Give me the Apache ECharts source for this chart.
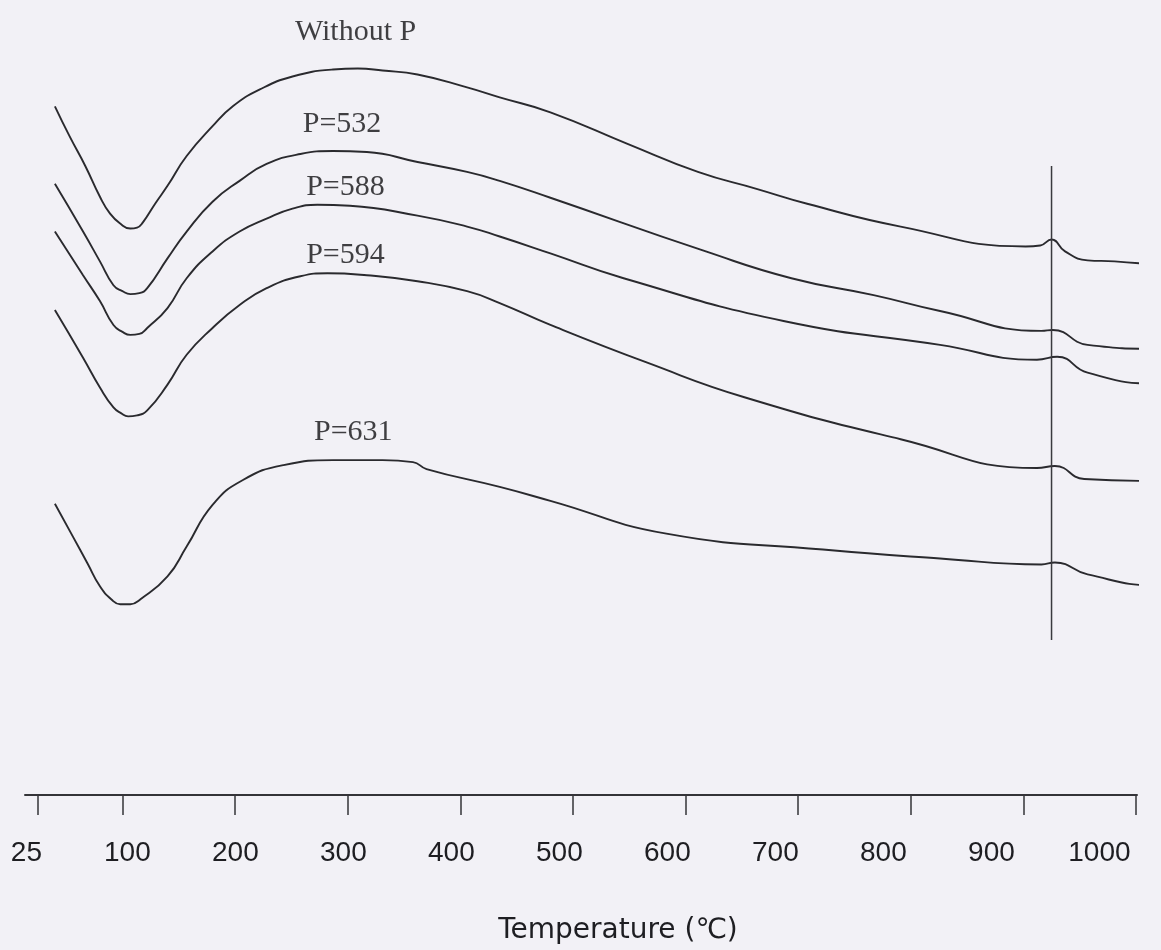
<!DOCTYPE html>
<html>
<head>
<meta charset="utf-8">
<title>DTA curves</title>
<script src="https://cdn.jsdelivr.net/npm/echarts@6/dist/echarts.min.js"></script>
<style>
  html, body { margin: 0; padding: 0; background: #f2f1f6; }
  #chart { width: 1161px; height: 950px; }
</style>
</head>
<body>
<div id="chart"></div>
<script>
// DTA traces: [temperature °C, ΔT in arbitrary units]
const withoutP = [[40,69.3],[53,66.3],[67,63.3],[80,60.2],[89,58.5],[98,57.5],[107,57.0],[113,57.1],[118,57.6],[129,59.5],[140,61.3],[157,64.3],[180,67.3],[198,69.3],[222,71.0],[251,72.3],[287,73.0],[309,73.1],[331,72.9],[362,72.5],[406,71.2],[435,70.2],[480,68.7],[549,65.5],[611,62.7],[663,61.0],[708,59.5],[791,57.2],[902,55.2],[915,55.3],[925,55.9],[937,54.7],[957,53.8],[981,53.7],[1022,53.3]];
const p532 = [[40,61.5],[65,56.7],[80,53.7],[92,51.3],[100,50.7],[107,50.4],[115,50.5],[122,51.0],[140,54.0],[157,56.7],[180,59.7],[204,61.8],[228,63.5],[258,64.5],[287,64.8],[317,64.7],[362,63.7],[406,62.7],[435,61.8],[480,60.1],[618,54.7],[694,52.0],[767,50.3],[826,48.7],[916,46.7],[926,46.8],[957,45.3],[1019,44.9],[1022,44.9]];
const p588 = [[40,56.7],[65,52.3],[80,49.7],[92,47.3],[100,46.6],[107,46.3],[115,46.4],[122,47.0],[140,49.0],[157,52.0],[180,54.7],[204,56.7],[228,58.0],[251,59.0],[273,59.4],[302,59.3],[362,58.3],[406,57.2],[435,56.2],[480,54.5],[545,52.0],[687,47.7],[826,45.3],[912,43.8],[930,44.1],[957,42.5],[1019,41.4],[1022,41.4]];
const p594 = [[40,48.8],[65,44.0],[80,41.0],[92,39.0],[99,38.4],[105,38.1],[113,38.2],[122,38.7],[140,41.3],[157,44.3],[180,47.0],[204,49.3],[228,51.0],[258,52.2],[282,52.5],[317,52.3],[362,51.7],[406,50.7],[435,49.5],[480,47.3],[566,43.5],[653,40.0],[791,35.8],[912,32.9],[928,33.1],[954,31.8],[1019,31.6],[1022,31.6]];
const p631 = [[40,29.3],[56,26.0],[69,23.3],[80,21.0],[90,19.7],[98,19.2],[107,19.2],[116,19.7],[140,22.0],[157,25.0],[180,29.2],[207,31.7],[243,33.2],[287,33.7],[331,33.7],[358,33.5],[370,32.8],[435,31.0],[480,29.6],[583,26.3],[722,24.7],[826,23.8],[916,23.2],[928,23.4],[957,22.2],[1019,21.1],[1022,21.1]];

const curveNames = ['Without P', 'P=532', 'P=588', 'P=594', 'P=631'];
const curves = [withoutP, p532, p588, p594, p631];
// where each curve's name is written: [temperature, ΔT]
const nameAnchors = [[307,76.8],[295,67.5],[298,61.2],[298,54.3],[305,36.5]];

// marker line at the exothermic peak
const peakTemp = 925;
const peakSpan = [15.6, 63.3];

// temperature scale
const tickTemps = [25, 100, 200, 300, 400, 500, 600, 700, 800, 900, 1000];
const printedLabels = [25, 100, 200, 300, 400, 500, 600, 700, 800, 900, 1000];

const chart = echarts.init(document.getElementById('chart'), null, { renderer: 'canvas' });

const ink = '#2a2a2e';
const labelFont = { fontFamily: 'Liberation Sans', fontSize: 28, color: '#1e1e22' };

const series = curves.map((d, i) => ({
  type: 'line',
  name: curveNames[i],
  data: d,
  showSymbol: false,
  smooth: 0.5,
  clip: false,
  lineStyle: { color: ink, width: 1.9 },
  xAxisIndex: 0,
  yAxisIndex: 0
}));

series.push({
  type: 'line',
  name: 'peak',
  data: [[peakTemp, peakSpan[0]], [peakTemp, peakSpan[1]]],
  showSymbol: false,
  lineStyle: { color: '#3a3a3e', width: 1.5 },
  xAxisIndex: 0,
  yAxisIndex: 0
});

series.push({
  type: 'scatter',
  name: 'names',
  data: curveNames.map((n, i) => ({ name: n, value: nameAnchors[i] })),
  symbolSize: 2,
  itemStyle: { color: 'rgba(0,0,0,0)' },
  silent: true,
  z: 5,
  label: {
    show: true,
    position: 'inside',
    formatter: p => p.name,
    fontFamily: 'Liberation Serif',
    fontSize: 30,
    color: '#111114',
    textBorderWidth: 0
  },
  xAxisIndex: 0,
  yAxisIndex: 0
});

chart.setOption({
  animation: false,
  backgroundColor: '#f2f1f6',
  grid: { left: 25, right: 24, top: 0, bottom: 150 },
  xAxis: [
    {
      type: 'value',
      min: 13.46,
      max: 1000.89,
      position: 'bottom',
      axisLine: { show: true, lineStyle: { color: '#343438', width: 2 } },
      axisTick: { show: true, length: 20, customValues: tickTemps, lineStyle: { color: '#343438', width: 1.5 } },
      axisLabel: { show: false },
      splitLine: { show: false },
      name: 'Temperature (℃)',
      nameLocation: 'middle',
      nameGap: 122,
      nameTextStyle: { fontFamily: 'DejaVu Sans', fontSize: 28, color: '#1e1e22', padding: [0, 0, 0, 74] }
    },
    {
      type: 'value',
      min: 5.2,
      max: 1034.8,
      position: 'bottom',
      axisLine: { show: false },
      axisTick: { show: false },
      splitLine: { show: false },
      axisLabel: Object.assign({
        show: true,
        customValues: printedLabels,
        margin: 44,
        // the first printed value sits a little left of the others' spacing
        formatter: v => (v === printedLabels[0] ? '{first|' + v + '}' : String(v)),
        rich: { first: Object.assign({ padding: [0, 40, 0, 0] }, labelFont) }
      }, labelFont)
    }
  ],
  yAxis: [{ type: 'value', min: 0, max: 80, show: false }],
  series: series
});
</script>
</body>
</html>
